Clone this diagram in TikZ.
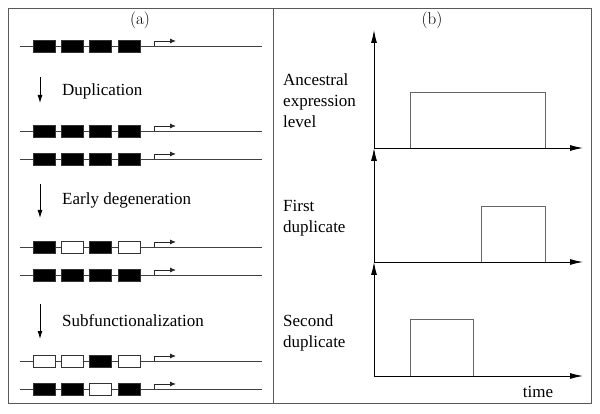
\documentclass[tikz,border=0pt]{standalone}
\usepackage{fontspec}
\newfontfamily\tnr{Liberation Serif}
\usetikzlibrary{arrows.meta}
\tikzset{
  frameline/.style={draw=black!65, line width=1pt},
  geneline/.style={draw=black!75, line width=0.9pt},
  exon/.style={draw=black!80, line width=0.9pt, minimum width=22pt, minimum height=12pt, inner sep=0pt},
  promoter/.style={draw=black!85, line width=0.9pt, -{Latex[length=6pt,width=5pt]}},
  stagearrow/.style={draw=black, line width=0.9pt, -{Latex[length=8pt,width=5pt]}},
  axis/.style={draw=black, line width=0.9pt, -{Latex[length=13pt,width=6pt]}},
  pulse/.style={draw=black!60, line width=0.9pt},
  lbl/.style={font=\tnr\fontsize{17}{21}\selectfont, inner sep=0pt},
  panel/.style={font=\fontsize{17}{21}\selectfont, inner sep=0pt}
}
\newcommand\generow[3]{%
  \coordinate (#1l) at (20,#2);
  \coordinate (#1r) at (262,#2);
  \draw[geneline] (#1l) -- (#1r);
  \foreach \f [count=\i] in {#3} {
    \node[exon, fill=\f] (#1e\i) at ({44+28.4*(\i-1)},#2) {};
  }
  \coordinate (#1p) at (154,#2);
  \coordinate (#1q) at (154,#2-5);
  \coordinate (#1t) at (176,#2-5);
  \draw[promoter] (#1p) -- (#1q) -- (#1t);
}
\begin{document}
\begin{tikzpicture}[x=1pt,y=-1pt]
\useasboundingbox (0,0) rectangle (600,414);
% frame
\coordinate (tl) at (8,9);
\coordinate (br) at (591,403);
\coordinate (dt) at (273,9);
\coordinate (db) at (273,403);
\draw[frameline] (tl) rectangle (br);
\draw[frameline] (dt) -- (db);
\node[panel] (pa) at (140,20) {(a)};
\node[panel] (pb) at (432,20) {(b)};
% left panel
\generow{g0}{46}{black,black,black,black}
\coordinate (a1s) at (40,77); \coordinate (a1e) at (40,103);
\draw[stagearrow] (a1s) -- (a1e);
\node[lbl, anchor=west] (t1) at (62,91) {Duplication};
\generow{g1}{131}{black,black,black,black}
\generow{g2}{159}{black,black,black,black}
\coordinate (a2s) at (40,184); \coordinate (a2e) at (40,218);
\draw[stagearrow] (a2s) -- (a2e);
\node[lbl, anchor=west] (t2) at (62,200) {Early degeneration};
\generow{g3}{247}{black,white,black,white}
\generow{g4}{275}{black,black,black,black}
\coordinate (a3s) at (40,304); \coordinate (a3e) at (40,339);
\draw[stagearrow] (a3s) -- (a3e);
\node[lbl, anchor=west] (t3) at (62,321) {Subfunctionalization};
\generow{g5}{361}{white,white,black,white}
\generow{g6}{389}{black,black,white,black}
% right panel
\node[lbl, anchor=west, align=left] (l1) at (283,101) {Ancestral\\expression\\level};
\node[lbl, anchor=west, align=left] (l2) at (283,218) {First\\duplicate};
\node[lbl, anchor=west, align=left] (l3) at (283,333) {Second\\duplicate};
\coordinate (o1) at (374,148); \coordinate (y1) at (374,30); \coordinate (x1) at (583,148);
\coordinate (o2) at (374,262); \coordinate (y2) at (374,148); \coordinate (x2) at (583,262);
\coordinate (o3) at (374,376); \coordinate (y3) at (374,262); \coordinate (x3) at (583,376);
\draw[pulse] (410,148) |- (545,92) -- (545,148);
\draw[pulse] (481,262) |- (545,206) -- (545,262);
\draw[pulse] (410,376) |- (473,319) -- (473,376);
\draw[axis] (o1) -- (y1);
\draw[axis] (o1) -- (x1);
\draw[axis] (o2) -- (y2);
\draw[axis] (o2) -- (x2);
\draw[axis] (o3) -- (y3);
\draw[axis] (o3) -- (x3);
\node[lbl] (tm) at (538,392) {time};
\end{tikzpicture}
\end{document}
